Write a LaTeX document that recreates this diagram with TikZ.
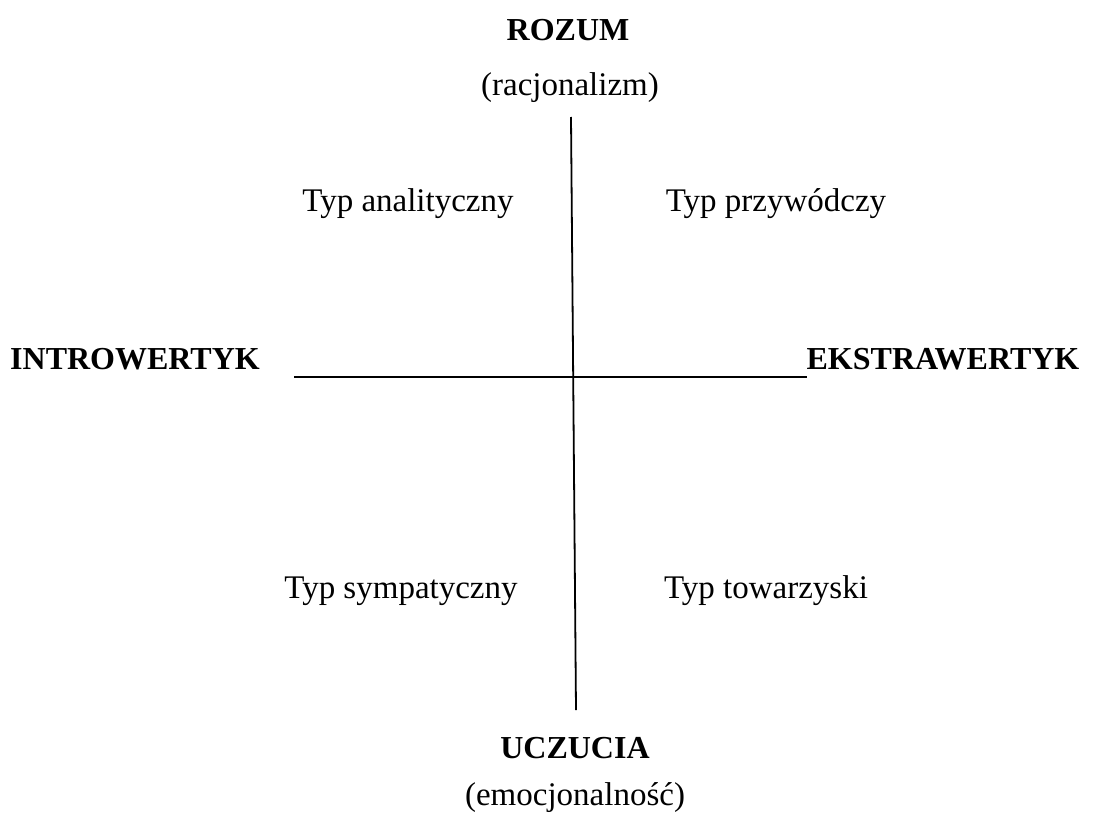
\documentclass[tikz,border=0pt]{standalone}
\usepackage{fontspec}
\setmainfont{Liberation Serif}
\usepackage{tikz}

\begin{document}
\begin{tikzpicture}[x=1pt,y=-1pt,
    lab/.style={anchor=base,inner sep=0pt,font=\fontsize{33}{40}\selectfont},
    head/.style={anchor=base,inner sep=0pt,font=\bfseries\fontsize{32}{40}\selectfont},
    axis/.style={line width=1.8pt}]
    \useasboundingbox (0,0) rectangle (1093,819);
    % nodes
    \node at (568,40) [head] (rozum) {ROZUM};
    \node at (570,95) [lab] (racj) {(racjonalizm)};
    \node at (408,211) [lab] (anal) {Typ analityczny};
    \node at (776,211) [lab] (przyw) {Typ przywódczy};
    \node at (135,369) [head] (intro) {INTROWERTYK};
    \node at (943,369) [head] (ekstra) {EKSTRAWERTYK};
    \node at (401,598) [lab] (symp) {Typ sympatyczny};
    \node at (766,598) [lab] (tow) {Typ towarzyski};
    \node at (575,758) [head] (uczucia) {UCZUCIA};
    \node at (575,805) [lab] (emoc) {(emocjonalność)};

    % axis ends
    \coordinate (top) at (571,117);
    \coordinate (bot) at (576,710);
    \coordinate (left) at (294,377);
    \coordinate (right) at (807,377);

    % paths
    \draw[axis] (top) -- (bot); % rozum -> uczucia
    \draw[axis] (left) -- (right); % introwertyk -> ekstrawertyk

\end{tikzpicture}
\end{document}
